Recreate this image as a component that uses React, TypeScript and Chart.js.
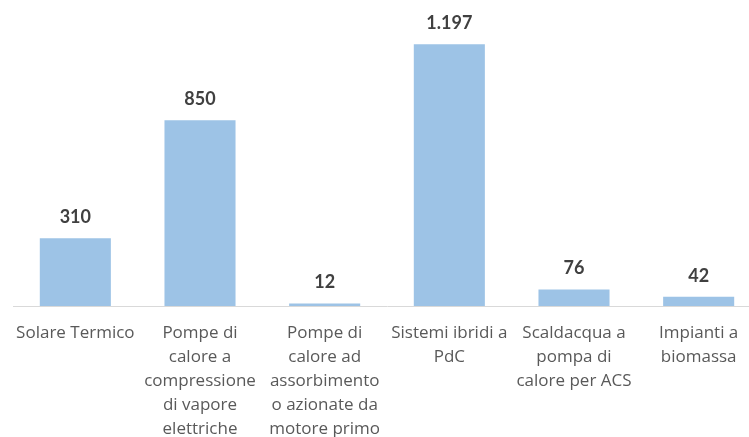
import React, { useEffect, useRef } from "react";
import { Chart, registerables } from "chart.js";

Chart.register(...registerables);

const categories: string[][] = [
  ["Solare Termico"],
  ["Pompe di", "calore a", "compressione", "di vapore", "elettriche"],
  ["Pompe di", "calore ad", "assorbimento", "o azionate da", "motore primo"],
  ["Sistemi ibridi a", "PdC"],
  ["Scaldacqua a", "pompa di", "calore per ACS"],
  ["Impianti a", "biomassa"],
];
const values: number[] = [310, 850, 12, 1197, 76, 42];

const fmt = (v: number) => String(v).replace(/\B(?=(\d{3})+(?!\d))/g, ".");

const LABEL_FONT = "'Open Sans', sans-serif";
const VALUE_FONT = "Lato, 'Open Sans', sans-serif";

const labelPlugin = {
  id: "valueLabels",
  afterDatasetsDraw(chart: any) {
    const ctx = chart.ctx;
    const meta = chart.getDatasetMeta(0);
    ctx.save();
    ctx.fillStyle = "#404040";
    ctx.font = `bold 18px ${VALUE_FONT}`;
    ctx.textAlign = "center";
    ctx.textBaseline = "middle";
    meta.data.forEach((bar: any, i: number) => {
      ctx.fillText(fmt(values[i]), bar.x, bar.y - 21);
    });
    ctx.restore();
  },
};

export default function App() {
  const ref = useRef<HTMLCanvasElement | null>(null);
  useEffect(() => {
    document.body.style.margin = "0";
    const chart = new Chart(ref.current!, {
      type: "bar",
      data: {
        labels: categories,
        datasets: [
          {
            data: values,
            backgroundColor: "#9DC3E6",
            barPercentage: 0.57,
            categoryPercentage: 1,
          },
        ],
      },
      options: {
        animation: false,
        responsive: false,
        maintainAspectRatio: false,
        layout: { padding: { left: 13, right: 9, top: 0, bottom: 0 } },
        plugins: { legend: { display: false }, tooltip: { enabled: false } },
        scales: {
          x: {
            grid: { display: false },
            border: { display: true, color: "#D9D9D9", width: 1 },
            afterFit: (scale: any) => {
              scale.height = 131;
            },
            ticks: {
              color: "#595959",
              font: { family: LABEL_FONT, size: 17, lineHeight: "24px" },
              padding: 7,
              maxRotation: 0,
              minRotation: 0,
              autoSkip: false,
            },
          },
          y: {
            display: false,
            min: 0,
            max: 1400,
          },
        },
      },
      plugins: [labelPlugin],
    });
    return () => chart.destroy();
  }, []);
  return (
    <div style={{ width: 749, height: 437, overflow: "hidden", position: "relative" }}>
      <canvas ref={ref} width={770} height={437} style={{ display: "block" }} />
    </div>
  );
}
